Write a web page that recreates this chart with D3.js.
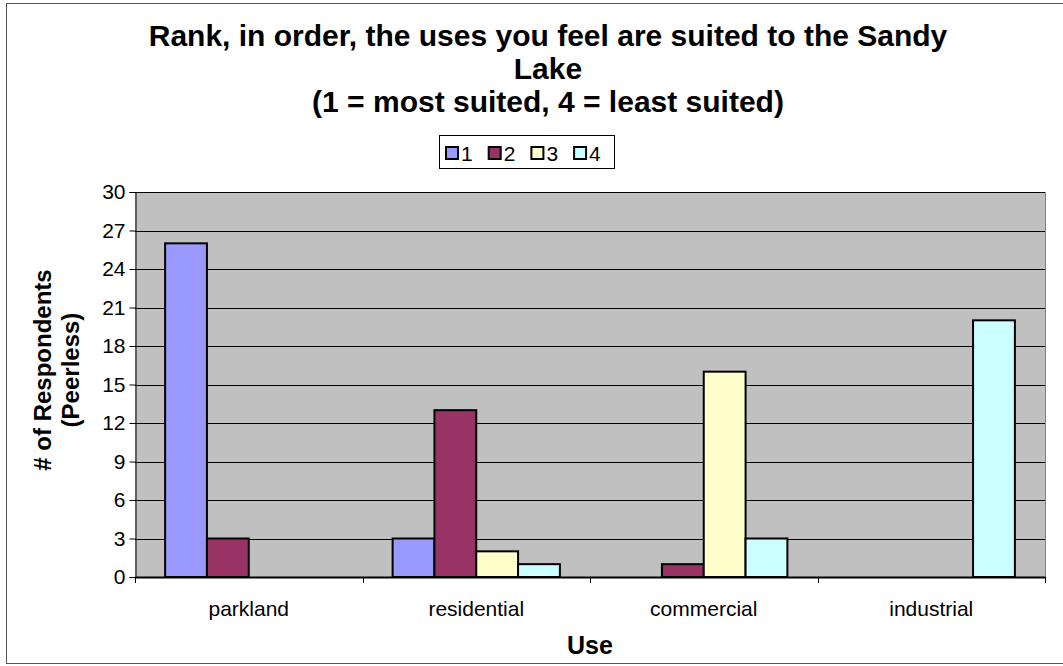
<!DOCTYPE html>
<html><head><meta charset="utf-8">
<script src="https://cdn.jsdelivr.net/npm/d3@7"></script>
<style>body{margin:0;background:#fff;}svg{display:block;font-family:"Liberation Sans",Arial,sans-serif;}</style>
</head><body>
<svg id="c" width="1063" height="666"></svg>
<script>
const categories = ["parkland", "residential", "commercial", "industrial"];
const seriesNames = ["1", "2", "3", "4"];
const rank1 = [26, 3, 0, 0];
const rank2 = [3, 13, 1, 0];
const rank3 = [0, 2, 16, 0];
const rank4 = [0, 1, 3, 20];
const yTicks = [0, 3, 6, 9, 12, 15, 18, 21, 24, 27, 30];
const colors = ["#9999FF", "#993366", "#FFFFCC", "#CCFFFF"];
const titleLines = ["Rank, in order, the uses you feel are suited to the Sandy", "Lake", "(1 = most suited, 4 = least suited)"];

const series = [rank1, rank2, rank3, rank4];
const svg = d3.select("#c");
const FF = "Liberation Sans, Arial, sans-serif";
const m = {left: 135, right: 1045, top: 192, bottom: 577};

svg.append("rect").attr("x", 6.5).attr("y", 3.5).attr("width", 1070).attr("height", 660)
  .attr("fill", "#fff").attr("stroke", "#555").attr("stroke-width", 1);

const x0 = d3.scaleBand().domain(categories).range([m.left, m.right]).paddingInner(0).paddingOuter(0);
const x1 = d3.scaleBand().domain(seriesNames).range([0, x0.bandwidth()]).paddingOuter(0.72).paddingInner(0);
const y = d3.scaleLinear().domain([0, 30]).range([m.bottom, m.top]);

svg.append("rect").attr("x", m.left).attr("y", m.top).attr("width", m.right - m.left).attr("height", m.bottom - m.top)
  .attr("fill", "#C0C0C0");

svg.append("g").selectAll("line").data(yTicks.filter(d => d > 0)).join("line")
  .attr("x1", m.left).attr("x2", m.right).attr("y1", d => Math.round(y(d)) + 0.5).attr("y2", d => Math.round(y(d)) + 0.5)
  .attr("stroke", "#000").attr("stroke-width", 1);

svg.append("line").attr("x1", m.right + 0.5).attr("x2", m.right + 0.5).attr("y1", m.top).attr("y2", m.bottom)
  .attr("stroke", "#808080");

const groups = svg.append("g").selectAll("g").data(categories).join("g")
  .attr("transform", d => `translate(${x0(d)},0)`);
groups.selectAll("rect").data((c, ci) => series.map((s, si) => ({s: seriesNames[si], v: s[ci], col: colors[si]})))
  .join("rect")
  .attr("x", d => x1(d.s)).attr("width", x1.bandwidth())
  .attr("y", d => y(d.v)).attr("height", d => y(0) - y(d.v))
  .attr("fill", d => d.col).attr("stroke", "#000").attr("stroke-width", 2)
  .attr("display", d => d.v > 0 ? null : "none");

// axes
const yAxis = d3.axisLeft(y).tickValues(yTicks).tickSize(6).tickPadding(4);
const gy = svg.append("g").attr("transform", `translate(${m.left + 0.5},0)`).call(yAxis);
gy.select(".domain").attr("stroke", "#000");
gy.selectAll(".tick line").attr("stroke", "#000");
gy.selectAll("text").attr("font-size", 21).attr("fill", "#000").attr("font-family", FF);

const xAxis = d3.axisBottom(x0).tickSize(0).tickPadding(24);
const gx = svg.append("g").attr("transform", `translate(0,${m.bottom})`).call(xAxis);
gx.select(".domain").attr("stroke", "#000").attr("stroke-width", 2);
gx.selectAll("text").attr("font-size", 21).attr("fill", "#000").attr("font-family", FF);
svg.append("g").selectAll("line").data(d3.range(5)).join("line")
  .attr("x1", i => Math.round(m.left + i * x0.bandwidth()) + 0.5).attr("x2", i => Math.round(m.left + i * x0.bandwidth()) + 0.5)
  .attr("y1", m.bottom).attr("y2", m.bottom + 6).attr("stroke", "#000");

// titles
const t = svg.append("text").attr("text-anchor", "middle").attr("font-weight", "bold").attr("font-size", 30);
titleLines.forEach((l, i) => t.append("tspan").attr("x", 548).attr("y", 46 + i * 33).text(l));

svg.append("text").attr("x", (m.left + m.right) / 2).attr("y", 654).attr("text-anchor", "middle")
  .attr("font-weight", "bold").attr("font-size", 25).text("Use");

const yt = svg.append("text").attr("transform", `translate(0,370) rotate(-90)`)
  .attr("text-anchor", "middle").attr("font-weight", "bold").attr("font-size", 24);
yt.append("tspan").attr("x", 0).attr("y", 51).text("# of Respondents");
yt.append("tspan").attr("x", 0).attr("y", 79).text("(Peerless)");

// legend
const lg = svg.append("g");
lg.append("rect").attr("x", 439.5).attr("y", 135.5).attr("width", 175).attr("height", 33).attr("fill", "#fff").attr("stroke", "#000");
seriesNames.forEach((s, i) => {
  const gx0 = 446 + i * 42.7;
  lg.append("rect").attr("x", gx0).attr("y", 147).attr("width", 12).attr("height", 12)
    .attr("fill", colors[i]).attr("stroke", "#000").attr("stroke-width", 2);
  lg.append("text").attr("x", gx0 + 15).attr("y", 161).attr("font-size", 21).text(s);
});
</script>
</body></html>
